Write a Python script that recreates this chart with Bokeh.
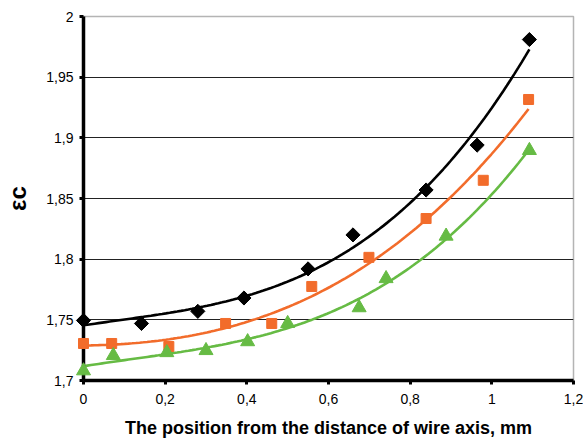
import numpy as np
from bokeh.plotting import figure
from bokeh.models import FixedTicker, CustomJSTickFormatter
from bokeh.embed import file_html
from bokeh.resources import INLINE

# data
x_black = [0.0, 0.142, 0.28, 0.393, 0.55, 0.66, 0.839, 0.964, 1.092]
y_black = [1.7495, 1.747, 1.757, 1.768, 1.792, 1.820, 1.857, 1.894, 1.981]

x_orange = [0.0, 0.069, 0.209, 0.348, 0.461, 0.559, 0.699, 0.839, 0.979, 1.090]
y_orange = [1.7305, 1.7305, 1.728, 1.747, 1.747, 1.7775, 1.8015, 1.8335, 1.865, 1.9316]

x_green = [0.0, 0.073, 0.204, 0.30, 0.402, 0.50, 0.675, 0.741, 0.888, 1.092]
y_green = [1.708, 1.7206, 1.723, 1.7247, 1.732, 1.747, 1.760, 1.784, 1.819, 1.8896]

x_ticks = [0, 0.2, 0.4, 0.6, 0.8, 1.0, 1.2]
y_ticks = [1.7, 1.75, 1.8, 1.85, 1.9, 1.95, 2.0]

series = [
    (x_black, y_black, "black", "square", 10, np.pi / 4),
    (x_orange, y_orange, "#F26C2B", "square", 10, 0.0),
    (x_green, y_green, "#66BB44", "triangle", 14, 0.0),
]

p = figure(width=583, height=441, output_backend="svg", toolbar_location=None,
           x_range=(0, 1.2), y_range=(1.7, 2.0),
           min_border_left=83, min_border_right=10, min_border_top=16, min_border_bottom=61)
p.background_fill_color = "white"
p.border_fill_color = "white"
p.outline_line_color = "#B4B4B4"
p.outline_line_width = 1.5

for xs, ys, col, mk, sz, ang in series:
    xs_a = np.array(xs)
    ys_a = np.array(ys)
    coef = np.polyfit(xs_a, ys_a, 3)
    xf = np.linspace(0, max(xs), 120)
    yf = np.polyval(coef, xf)
    p.line(xf, yf, line_color=col, line_width=2.6)
    p.scatter(xs, ys, marker=mk, size=sz, angle=ang, fill_color=col, line_color=col,
              level="overlay")

fmt = CustomJSTickFormatter(code="return tick.toFixed(2).replace(/\\.?0+$/, '').replace('.', ',');")

p.xaxis.ticker = FixedTicker(ticks=x_ticks)
p.yaxis.ticker = FixedTicker(ticks=y_ticks)
p.xaxis.formatter = fmt
p.yaxis.formatter = fmt
p.xgrid.visible = False
p.ygrid.ticker = FixedTicker(ticks=[1.75, 1.8, 1.85, 1.9, 1.95])
p.ygrid.grid_line_color = "#222222"
p.ygrid.grid_line_width = 1.2

for ax in (p.xaxis, p.yaxis):
    ax.axis_line_width = 3.5
    ax.axis_line_color = "black"
    ax.major_tick_line_width = 3
    ax.major_tick_in = 0
    ax.major_tick_out = 4
    ax.minor_tick_line_color = None
    ax.major_label_text_font = "Liberation Sans"
    ax.major_label_text_font_size = "14px"
    ax.major_label_text_color = "black"
    ax.axis_label_text_font = "Liberation Sans"
    ax.axis_label_text_font_style = "bold"
    ax.axis_label_text_color = "black"

p.xaxis.major_label_standoff = 9
p.yaxis.major_label_standoff = 6
p.xaxis.axis_label = "The position from the distance of wire axis, mm"
p.xaxis.axis_label_text_font_size = "18px"
p.xaxis.axis_label_standoff = 11
p.yaxis.axis_label = "εc"
p.yaxis.axis_label_text_font_size = "24px"
p.yaxis.axis_label_standoff = 12

open("out.html", "w").write(file_html(p, INLINE))
